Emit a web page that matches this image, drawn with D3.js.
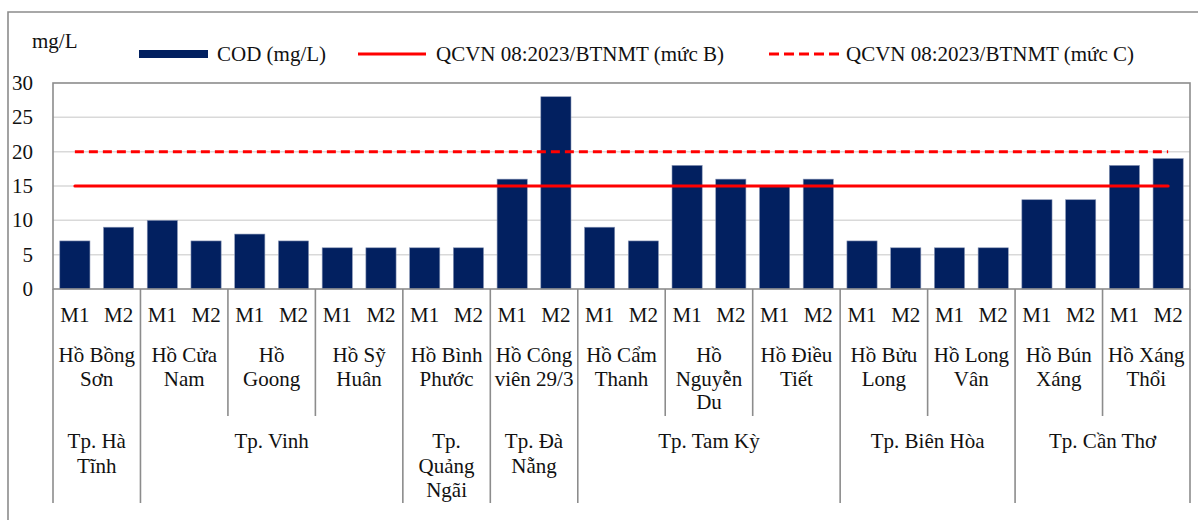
<!DOCTYPE html>
<html>
<head>
<meta charset="utf-8">
<script src="https://cdn.jsdelivr.net/npm/d3@7"></script>
<style>
  html, body { margin: 0; padding: 0; background: #fff; }
</style>
</head>
<body>
<svg id="chart" width="1198" height="520"></svg>
<script>
// Lakes, in display order, with their label lines
const lakes = ["Hồ Bồng Sơn", "Hồ Cửa Nam", "Hồ Goong", "Hồ Sỹ Huân", "Hồ Bình Phước",
  "Hồ Công viên 29/3", "Hồ Cẩm Thanh", "Hồ Nguyễn Du", "Hồ Điều Tiết", "Hồ Bửu Long",
  "Hồ Long Vân", "Hồ Bún Xáng", "Hồ Xáng Thổi"];
const lakeLines = [["Hồ Bồng", "Sơn"], ["Hồ Cửa", "Nam"], ["Hồ", "Goong"], ["Hồ Sỹ", "Huân"],
  ["Hồ Bình", "Phước"], ["Hồ Công", "viên 29/3"], ["Hồ Cẩm", "Thanh"], ["Hồ", "Nguyễn", "Du"],
  ["Hồ Điều", "Tiết"], ["Hồ Bửu", "Long"], ["Hồ Long", "Vân"], ["Hồ Bún", "Xáng"], ["Hồ Xáng", "Thổi"]];
// City for each lake
const lakeCity = ["Tp. Hà Tĩnh", "Tp. Vinh", "Tp. Vinh", "Tp. Vinh", "Tp. Quảng Ngãi",
  "Tp. Đà Nẵng", "Tp. Tam Kỳ", "Tp. Tam Kỳ", "Tp. Tam Kỳ", "Tp. Biên Hòa",
  "Tp. Biên Hòa", "Tp. Cần Thơ", "Tp. Cần Thơ"];
const cityLines = {
  "Tp. Hà Tĩnh": ["Tp. Hà", "Tĩnh"],
  "Tp. Vinh": ["Tp. Vinh"],
  "Tp. Quảng Ngãi": ["Tp.", "Quảng", "Ngãi"],
  "Tp. Đà Nẵng": ["Tp. Đà", "Nẵng"],
  "Tp. Tam Kỳ": ["Tp. Tam Kỳ"],
  "Tp. Biên Hòa": ["Tp. Biên Hòa"],
  "Tp. Cần Thơ": ["Tp. Cần Thơ"]
};
const rounds = ["M1", "M2"];
// COD (mg/L) per lake: [M1, M2]
const codM1 = [7, 10, 8, 6, 6, 16, 9, 18, 15, 7, 6, 13, 18];
const codM2 = [9, 7, 7, 6, 6, 28, 7, 16, 16, 6, 6, 13, 19];
const limitB = 15;
const limitC = 20;
const yTicks = [0, 5, 10, 15, 20, 25, 30];
const legendLabels = ["COD (mg/L)", "QCVN 08:2023/BTNMT (mức B)", "QCVN 08:2023/BTNMT (mức C)"];

const svg = d3.select("#chart")
  .attr("font-family", "'Liberation Serif', 'Times New Roman', Times, 'DejaVu Serif', serif");
const FONT = 21;
const navy = "#022060";
const red = "#ff0000";
const frameGray = "#8c8c8c";
const ink = "#111";

const plot = { left: 53, right: 1190, top: 83, bottom: 289 };

// flattened bar records
const bars = [];
lakes.forEach((lake, i) => {
  bars.push({ id: i + "-M1", lake, round: rounds[0], value: codM1[i] });
  bars.push({ id: i + "-M2", lake, round: rounds[1], value: codM2[i] });
});

const x = d3.scaleBand().domain(bars.map(d => d.id))
  .range([plot.left, plot.right]).paddingInner(0.31).paddingOuter(0.155);
const xLake = d3.scaleBand().domain(lakes).range([plot.left, plot.right]).padding(0);
const y = d3.scaleLinear().domain([0, 30]).range([plot.bottom, plot.top]);

// outer frame
svg.append("path")
  .attr("d", `M8,520 L8,12 L1198,12`)
  .attr("fill", "none").attr("stroke", frameGray).attr("stroke-width", 1.6);

// gridlines
svg.append("g").selectAll("line").data(yTicks.filter(t => t > 0 && t < 30)).join("line")
  .attr("x1", plot.left).attr("x2", plot.right)
  .attr("y1", d => y(d)).attr("y2", d => y(d))
  .attr("stroke", "#d9d9d9").attr("stroke-width", 1.5);

// y tick labels
svg.append("g").selectAll("text").data(yTicks).join("text")
  .attr("x", 33).attr("y", d => y(d)).attr("dy", "0.34em")
  .attr("text-anchor", "end").attr("font-size", FONT).attr("fill", ink)
  .text(d => d);

// unit label
svg.append("text").attr("x", 32).attr("y", 48).attr("font-size", FONT).attr("fill", ink).text("mg/L");

// bars
svg.append("g").selectAll("rect").data(bars).join("rect")
  .attr("x", d => x(d.id)).attr("width", x.bandwidth())
  .attr("y", d => y(d.value)).attr("height", d => y(0) - y(d.value))
  .attr("fill", navy).attr("stroke", "#8895b5").attr("stroke-width", 0.6);

// limit lines across bar centres
const firstC = x(bars[0].id) + x.bandwidth() / 2;
const lastC = x(bars[bars.length - 1].id) + x.bandwidth() / 2;
svg.append("line").attr("x1", firstC).attr("x2", lastC)
  .attr("y1", y(limitB)).attr("y2", y(limitB))
  .attr("stroke", red).attr("stroke-width", 3).attr("stroke-linecap", "round");
svg.append("line").attr("x1", firstC).attr("x2", lastC)
  .attr("y1", y(limitC)).attr("y2", y(limitC))
  .attr("stroke", red).attr("stroke-width", 3).attr("stroke-dasharray", "9,5");

// plot border
svg.append("rect")
  .attr("x", plot.left).attr("y", plot.top)
  .attr("width", plot.right - plot.left).attr("height", plot.bottom - plot.top)
  .attr("fill", "none").attr("stroke", frameGray).attr("stroke-width", 1.6);

// category axis: separators
const innerBottom = 416, cityBottom = 503;
const bounds = d3.range(lakes.length + 1);
svg.append("g").selectAll("line").data(bounds).join("line")
  .attr("x1", i => i < lakes.length ? xLake(lakes[i]) : plot.right)
  .attr("x2", i => i < lakes.length ? xLake(lakes[i]) : plot.right)
  .attr("y1", plot.bottom)
  .attr("y2", i => (i === 0 || i === lakes.length || lakeCity[i] !== lakeCity[i - 1]) ? cityBottom : innerBottom)
  .attr("stroke", frameGray).attr("stroke-width", 1.6);

// M1 / M2 labels
svg.append("g").selectAll("text").data(bars).join("text")
  .attr("x", d => x(d.id) + x.bandwidth() / 2).attr("y", 322)
  .attr("text-anchor", "middle").attr("font-size", FONT).attr("fill", ink)
  .text(d => d.round);

// lake labels
const lakeG = svg.append("g").selectAll("text").data(lakes).join("text")
  .attr("text-anchor", "middle").attr("font-size", FONT).attr("fill", ink);
lakeG.each(function (d, i) {
  const cx = xLake(d) + xLake.bandwidth() / 2;
  d3.select(this).selectAll("tspan").data(lakeLines[i]).join("tspan")
    .attr("x", cx).attr("y", (l, j) => 362 + j * 23.5).text(l => l);
});

// city labels
const cities = [];
lakeCity.forEach((c, i) => {
  const last = cities[cities.length - 1];
  if (last && last.name === c) last.end = i;
  else cities.push({ name: c, start: i, end: i });
});
const cityG = svg.append("g").selectAll("text").data(cities).join("text")
  .attr("text-anchor", "middle").attr("font-size", FONT).attr("fill", ink);
cityG.each(function (c) {
  const x0 = xLake(lakes[c.start]);
  const x1 = xLake(lakes[c.end]) + xLake.bandwidth();
  d3.select(this).selectAll("tspan").data(cityLines[c.name]).join("tspan")
    .attr("x", (x0 + x1) / 2).attr("y", (l, j) => 448 + j * 24.5).text(l => l);
});

// legend
const lg = svg.append("g");
lg.append("rect").attr("x", 139).attr("y", 50).attr("width", 69).attr("height", 8).attr("fill", navy);
lg.append("text").attr("x", 217).attr("y", 61).attr("font-size", FONT).attr("fill", ink).text(legendLabels[0]);
lg.append("line").attr("x1", 358).attr("x2", 426).attr("y1", 54).attr("y2", 54)
  .attr("stroke", red).attr("stroke-width", 3);
lg.append("text").attr("x", 436).attr("y", 61).attr("font-size", FONT).attr("fill", ink).text(legendLabels[1]);
lg.append("line").attr("x1", 769).attr("x2", 841).attr("y1", 54).attr("y2", 54)
  .attr("stroke", red).attr("stroke-width", 3).attr("stroke-dasharray", "10,5");
lg.append("text").attr("x", 846).attr("y", 61).attr("font-size", FONT).attr("fill", ink).text(legendLabels[2]);
</script>
</body>
</html>
